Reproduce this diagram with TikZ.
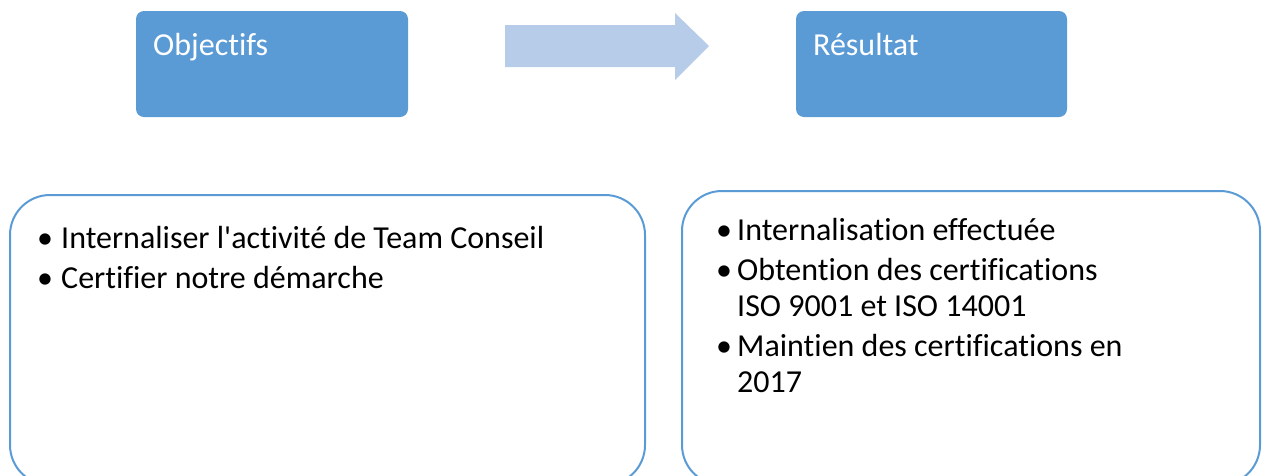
\documentclass[tikz,border=0pt]{standalone}
\usepackage{fontspec}
\setmainfont{Carlito}[Ligatures={TeXOff,NoCommon}]
\definecolor{blueA}{HTML}{5B9BD5}
\definecolor{arrowC}{HTML}{B7CCE9}
\tikzset{
  topbox/.style={rectangle, rounded corners=8pt, fill=blueA, draw=none, inner sep=0pt},
  toptext/.style={anchor=base west, inner sep=0pt, text=white, font=\fontsize{32}{36}\selectfont},
  botbox/.style={rectangle, rounded corners=40pt, draw=blueA, line width=2pt, fill=white, inner sep=0pt},
  bul/.style={anchor=base west, inner sep=0pt, font=\fontsize{32}{36}\selectfont},
  item/.style={anchor=base west, inner sep=0pt, font=\fontsize{32}{36}\selectfont},
}
\begin{document}
\begin{tikzpicture}[x=1pt,y=-1pt]
\useasboundingbox (0,0) rectangle (1263,475);
% top boxes
\node[topbox, minimum width=272pt, minimum height=106pt] (obj) at (272,64) {};
\node[toptext] (objt) at (153,55) {Objectifs};
\node[topbox, minimum width=271pt, minimum height=106pt] (res) at (931.5,64) {};
\node[toptext] (rest) at (813,55) {Résultat};
% arrow
\fill[arrowC] (505,25) -- (675,25) -- (675,13) -- (709,46) -- (675,80) -- (675,67) -- (505,67) -- cycle;
% bottom boxes
\node[botbox, minimum width=635pt, minimum height=290pt] (lbox) at (327.5,340) {};
\node[botbox, minimum width=578pt, minimum height=294pt] (rbox) at (971,338) {};
% left items
\node[bul] (lb1) at (37,248) {•};
\node[item] (li1) at (61,248) {Internaliser l'activité de Team Conseil};
\node[bul] (lb2) at (37,288) {•};
\node[item] (li2) at (61,288) {Certifier notre démarche};
% right items
\node[bul] (rb1) at (716,240) {•};
\node[item] (ri1) at (737,240) {Internalisation effectuée};
\node[bul] (rb2) at (716,280) {•};
\node[item] (ri2) at (737,280) {Obtention des certifications};
\node[item] (ri2b) at (737,316) {ISO 9001 et ISO 14001};
\node[bul] (rb3) at (716,356) {•};
\node[item] (ri3) at (737,356) {Maintien des certifications en};
\node[item] (ri3b) at (737,392) {2017};
\end{tikzpicture}
\end{document}
